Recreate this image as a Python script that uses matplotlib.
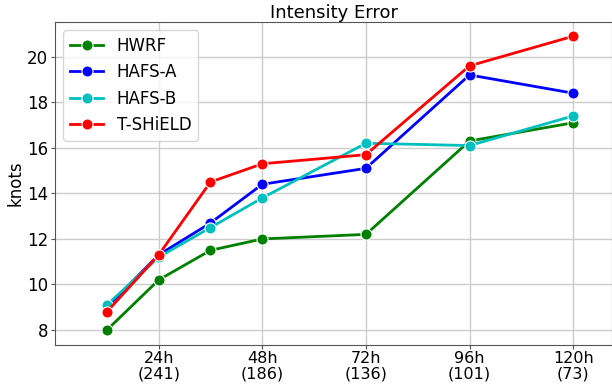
import matplotlib
matplotlib.use("Agg")
import matplotlib.pyplot as plt

# forecast lead times (h) and sample counts for the labelled ticks
lead_hours = [12, 24, 36, 48, 72, 96, 120]
tick_hours = [24, 48, 72, 96, 120]
tick_counts = [241, 186, 136, 101, 73]

hwrf = [8.0, 10.2, 11.5, 12.0, 12.2, 16.3, 17.1]
hafs_a = [9.0, 11.3, 12.7, 14.4, 15.1, 19.2, 18.4]
hafs_b = [9.1, 11.2, 12.5, 13.8, 16.2, 16.1, 17.4]
t_shield = [8.8, 11.3, 14.5, 15.3, 15.7, 19.6, 20.9]

models = ["HWRF", "HAFS-A", "HAFS-B", "T-SHiELD"]
colors = ["g", "b", "c", "r"]

fig = plt.figure(figsize=(6.12, 3.84), dpi=100)
ax = fig.add_axes([0.09, 0.102, 0.91, 0.841])

for name, vals, c in zip(models, [hwrf, hafs_a, hafs_b, t_shield], colors):
    ax.plot(lead_hours, vals, color=c, linewidth=2, marker="o", markersize=8,
            markeredgecolor="white", markeredgewidth=0.8, label=name)

ax.set_xticks(tick_hours)
ax.set_xticklabels([f"{h}h\n({n})" for h, n in zip(tick_hours, tick_counts)],
                   linespacing=1.0)
ax.set_xlim(0, 129)
ax.set_ylim(7.35, 21.53)
ax.set_yticks([8, 10, 12, 14, 16, 18, 20])
ax.tick_params(labelsize=12, length=3, pad=2, color="#555555")
ax.tick_params(axis="x", labelsize=11.5, pad=1.5)
for sp in ax.spines.values():
    sp.set_color("#555555")
ax.grid(True, color="#cccccc", linewidth=1)
ax.set_axisbelow(True)
ax.set_ylabel("knots", fontsize=12, labelpad=2)
ax.set_title("Intensity Error", fontsize=13, pad=2)
ax.legend(loc="upper left", fontsize=12, handlelength=2)

fig.savefig("out.png", dpi=100)
